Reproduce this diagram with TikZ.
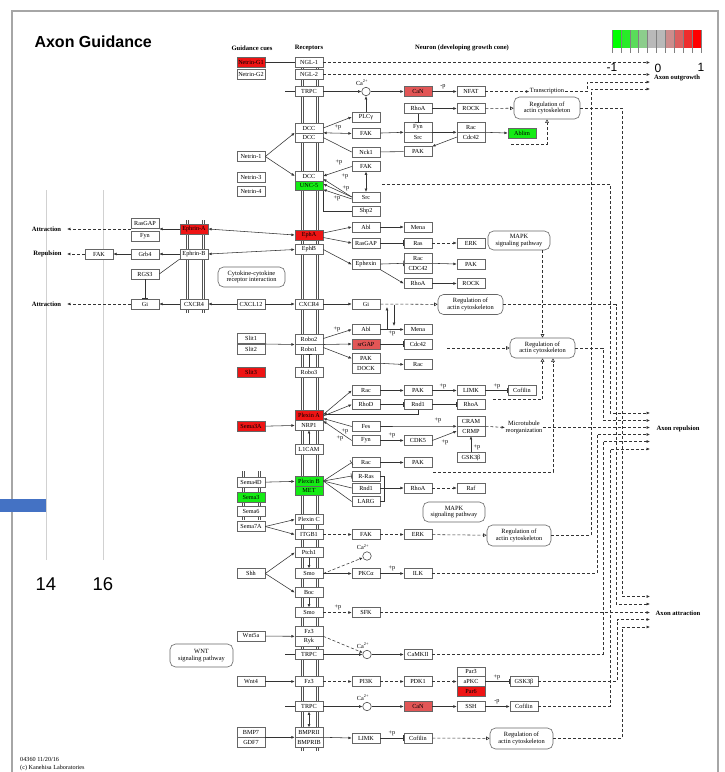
\documentclass[tikz,border=0pt]{standalone}
\usepackage{fontspec}
\setmainfont{Liberation Serif}
\newfontfamily\arialf{Liberation Sans}
\usetikzlibrary{arrows.meta,calc}
\definecolor{kred}{RGB}{238,20,20}
\definecolor{kpink}{RGB}{226,86,86}
\definecolor{kgreen}{RGB}{20,235,20}
\definecolor{kblue}{RGB}{68,114,196}
\definecolor{cb0}{RGB}{0,255,0}
\definecolor{cb1}{RGB}{40,235,40}
\definecolor{cb2}{RGB}{90,220,90}
\definecolor{cb3}{RGB}{140,205,140}
\definecolor{cb4}{RGB}{185,185,185}
\definecolor{cb5}{RGB}{185,185,185}
\definecolor{cb6}{RGB}{205,140,140}
\definecolor{cb7}{RGB}{220,95,95}
\definecolor{cb8}{RGB}{238,45,45}
\definecolor{cb9}{RGB}{255,0,0}
\newcommand{\boxfont}{\fontsize{6.2}{6.6}\selectfont}
\newcommand{\regfont}{\fontsize{6.4}{6.8}\selectfont}
\newcommand{\capfont}{\bfseries\fontsize{6.6}{7}\selectfont}

\tikzset{
  gene/.style={draw=black!60, fill=white, line width=0.55pt, minimum width=28pt,
    minimum height=9.6pt, inner sep=0pt, font=\boxfont},
  gred/.style={gene, fill=kred},
  gpink/.style={gene, fill=kpink},
  ggreen/.style={gene, fill=kgreen},
  pmap/.style={draw=black!60, fill=white, line width=0.6pt, rounded corners=5.5pt,
    align=center, inner sep=0pt, font=\regfont},
  cpd/.style={circle, draw=black!70, fill=white, line width=0.6pt, minimum size=8.5pt, inner sep=0pt},
  note/.style={font=\boxfont, inner sep=0.5pt},
  outl/.style={font=\capfont, inner sep=0.5pt},
  ln/.style={draw=black!80, line width=0.55pt},
  act/.style={ln, -{Latex[length=3.3pt,width=2.8pt]}},
  dact/.style={ln, {Latex[length=3.3pt,width=2.8pt]}-{Latex[length=3.3pt,width=2.8pt]}},
  inh/.style={ln, -{Bar[width=5.5pt]}},
  ind/.style={ln, dash pattern=on 3pt off 2pt},
  inda/.style={ind, -{Latex[length=3.3pt,width=2.8pt]}},
  indo/.style={ind, -{Triangle[open,length=3.5pt,width=3.6pt]}},
  membrane/.style={draw=black!68, line width=0.75pt, double=white, double distance=0.9pt},
}

\begin{document}
\begin{tikzpicture}[x=1pt,y=-1pt]
\useasboundingbox (0,0) rectangle (725,772);
\fill[white] (0,0) rectangle (725,772);

% slide frame and background chart remnants
\draw[black!35, line width=1.3pt] (12,772) -- (12,11) -- (718,11) -- (718,772);
\draw[black!18, line width=0.8pt] (46,190) -- (46,560);
\draw[black!18, line width=0.8pt] (103,190) -- (103,560);
\fill[kblue] (0,499.3) rectangle (46,512.3);
\node[font=\arialf\fontsize{18.5}{20}\selectfont] (n14) at (46,584) {14};
\node[font=\arialf\fontsize{18.5}{20}\selectfont] (n16) at (103,584) {16};
\node[anchor=west, font=\arialf\bfseries\fontsize{16}{18}\selectfont] (title) at (31,42) {Axon Guidance};

% colour scale
\foreach \c [count=\i from 0] in {cb0,cb1,cb2,cb3,cb4,cb5,cb6,cb7,cb8,cb9}
  \fill[\c] ({612+\i*8.9},30) rectangle ++(8.9,18);
\foreach \i in {0,...,10}
  \draw[black!50, line width=0.5pt] ({612+\i*8.9},30) -- ({612+\i*8.9},53);
\node[font=\arialf\fontsize{12}{13}\selectfont] (sm1) at (612,67) {-1};
\node[font=\arialf\fontsize{12}{13}\selectfont] (s0) at (658,68.5) {0};
\node[font=\arialf\fontsize{12}{13}\selectfont] (sp1) at (701,67) {1};

% headers
\node[outl] (hcue) at (252,48) {Guidance cues};
\node[outl] (hrec) at (309,48) {Receptors};
\node[outl] (hneu) at (462,48) {Neuron (developing growth cone)};

% membranes
\draw[membrane] (302.5,57) -- (302.5,751);
\draw[membrane] (317.5,57) -- (317.5,751);
\draw[membrane] (187.5,220) -- (187.5,313);
\draw[membrane] (203.5,220) -- (203.5,313);
\draw[membrane] (243.5,471) -- (243.5,520);
\draw[membrane] (259.5,471) -- (259.5,520);

% guidance cues
\node[gred] (ng1) at (251,62.5) {Netrin-G1};
\node[gene] (ng2) at (251,74.5) {Netrin-G2};
\node[gene] (ntn1) at (251,156.5) {Netrin-1};
\node[gene] (ntn3) at (251,177) {Netrin-3};
\node[gene] (ntn4) at (251,191.5) {Netrin-4};
\node[gene] (cxcl) at (251,304) {CXCL12};
\node[gene] (slit1) at (251,338.5) {Slit1};
\node[gene] (slit2) at (251,349.5) {Slit2};
\node[gred] (slit3) at (251,372) {Slit3};
\node[gred] (sema3a) at (251,426.5) {Sema3A};
\node[gene] (sema4d) at (251,482.5) {Sema4D};
\node[ggreen] (sema3) at (251,497.5) {Sema3};
\node[gene] (sema6) at (251,511.5) {Sema6};
\node[gene] (sema7a) at (251,526.5) {Sema7A};
\node[gene] (shh) at (251,573.5) {Shh};
\node[gene] (wnt5a) at (251,636) {Wnt5a};
\node[gene] (wnt4) at (251,681.5) {Wnt4};
\node[gene] (bmp7) at (251,732.5) {BMP7};
\node[gene] (gdf7) at (251,742.1) {GDF7};

% receptors
\node[gene] (ngl1) at (309,62.5) {NGL-1};
\node[gene] (ngl2) at (309,74.5) {NGL-2};
\node[gene] (trpc1) at (309,91.5) {TRPC};
\node[gene] (dcc1) at (309,128) {DCC};
\node[gene] (dcc2) at (309,137.6) {DCC};
\node[gene] (dcc3) at (309,176) {DCC};
\node[ggreen] (unc5) at (309,185.6) {UNC-5};
\node[gred] (epha) at (309,235) {EphA};
\node[gene] (ephb) at (309,249.5) {EphB};
\node[gene] (cxcr4) at (309,304) {CXCR4};
\node[gene] (robo2) at (309,339.5) {Robo2};
\node[gene] (robo1) at (309,349.1) {Robo1};
\node[gene] (robo3) at (309,372.5) {Robo3};
\node[gred] (plexa) at (309,415.5) {Plexin A};
\node[gene] (nrp1) at (309,425.1) {NRP1};
\node[gene] (l1cam) at (309,449.5) {L1CAM};
\node[ggreen] (plexb) at (309,481) {Plexin B};
\node[ggreen] (met) at (309,490.6) {MET};
\node[gene] (plexc) at (309,519.5) {Plexin C};
\node[gene] (itgb1) at (309,534.5) {ITGB1};
\node[gene] (ptch1) at (309,552.5) {Ptch1};
\node[gene] (smo1) at (309,573.5) {Smo};
\node[gene] (boc) at (309,592.5) {Boc};
\node[gene] (smo2) at (309,612.5) {Smo};
\node[gene] (fz3a) at (309,631.5) {Fz3};
\node[gene] (ryk) at (309,641.1) {Ryk};
\node[gene] (trpc2) at (309,654.5) {TRPC};
\node[gene] (fz3b) at (309,681.5) {Fz3};
\node[gene] (trpc3) at (309,706.5) {TRPC};
\node[gene] (bmpr2) at (309,732.5) {BMPRII};
\node[gene] (bmpr1b) at (309,742.1) {BMPRIB};

% ephrin side
\node[gene] (rasgapL) at (145,223) {RasGAP};
\node[gene] (fynL) at (145,236) {Fyn};
\node[gene] (grb4) at (145,254) {Grb4};
\node[gene] (rgs3) at (145,274) {RGS3};
\node[gene] (giL) at (145,304) {Gi};
\node[gene] (fakL) at (99,254) {FAK};
\node[gred] (ephrinA) at (194,229) {Ephrin-A};
\node[gene] (ephrinB) at (194,254) {Ephrin-B};
\node[gene] (cxcr4L) at (194,304) {CXCR4};

% neuron, column 3
\node[gene] (plcg) at (366,117) {PLCγ};
\node[gene] (fak1) at (366,133.5) {FAK};
\node[gene] (nck1) at (366,152) {Nck1};
\node[gene] (fak2) at (366,166.5) {FAK};
\node[gene] (src1) at (366,197) {Src};
\node[gene] (shp2) at (366,211.5) {Shp2};
\node[gene] (abl1) at (366,227) {Abl};
\node[gene] (rasgap) at (366,243) {RasGAP};
\node[gene] (ephexin) at (366,264.5) {Ephexin};
\node[gene] (gi) at (366,304) {Gi};
\node[gene] (abl2) at (366,329.5) {Abl};
\node[gpink] (srgap) at (366,344) {srGAP};
\node[gene] (pak1) at (366,358.5) {PAK};
\node[gene] (dock) at (366,368.1) {DOCK};
\node[gene] (rac1) at (366,390.5) {Rac};
\node[gene] (rhod) at (366,404.5) {RhoD};
\node[gene] (fes) at (366,426.5) {Fes};
\node[gene] (fyn2) at (366,440.5) {Fyn};
\node[gene] (rac2) at (366,462.5) {Rac};
\node[gene] (rras) at (366,476) {R-Ras};
\node[gene] (rnd1b) at (366,488) {Rnd1};
\node[gene] (larg) at (366,501.5) {LARG};
\node[gene] (fak3) at (366,534.5) {FAK};
\node[gene] (pkca) at (366,573.5) {PKCα};
\node[gene] (sfk) at (366,612.5) {SFK};
\node[gene] (pi3k) at (366,681.5) {PI3K};
\node[gene] (limk2) at (366,738) {LIMK};

% column 4
\node[gpink] (can1) at (418,91.5) {CaN};
\node[gene] (rhoa1) at (418,108.5) {RhoA};
\node[gene] (fyn1) at (418,127.5) {Fyn};
\node[gene] (src2) at (418,137.1) {Src};
\node[gene] (pak2) at (418,151.5) {PAK};
\node[gene] (mena1) at (418,227) {Mena};
\node[gene] (ras1) at (418,243) {Ras};
\node[gene] (rac3) at (418,258.5) {Rac};
\node[gene] (cdc42a) at (418,268.1) {CDC42};
\node[gene] (rhoa2) at (418,283.5) {RhoA};
\node[gene] (mena2) at (418,329.5) {Mena};
\node[gene] (cdc42b) at (418,344) {Cdc42};
\node[gene] (rac4) at (418,364.5) {Rac};
\node[gene] (pak3) at (418,390.5) {PAK};
\node[gene] (rnd1a) at (418,404.5) {Rnd1};
\node[gene] (cdk5) at (418,440.5) {CDK5};
\node[gene] (pak4) at (418,462.5) {PAK};
\node[gene] (rhoa3) at (418,488) {RhoA};
\node[gene] (camk) at (418,654.5) {CaMKII};
\node[gene] (pdk1) at (418,681.5) {PDK1};
\node[gpink] (can2) at (418,706.5) {CaN};
\node[gene] (cof2) at (418,738) {Cofilin};

% column 5
\node[gene] (nfat) at (471,91.5) {NFAT};
\node[gene] (rock1) at (471,108.5) {ROCK};
\node[gene] (rac5) at (471,127.5) {Rac};
\node[gene] (cdc42c) at (471,137.1) {Cdc42};
\node[gene] (erk1) at (471,243) {ERK};
\node[gene] (pak5) at (471,264) {PAK};
\node[gene] (rock2) at (471,283.5) {ROCK};
\node[gene] (limk1) at (471,390.5) {LIMK};
\node[gene] (rhoa4) at (471,404.5) {RhoA};
\node[gene] (cram) at (471,421.5) {CRAM};
\node[gene] (crmp) at (471,431.1) {CRMP};
\node[gene] (gsk1) at (471,457.5) {GSK3β};
\node[gene] (raf) at (471,488) {Raf};
\node[gene] (erk2) at (418,534.5) {ERK};
\node[gene] (ilk) at (418,573.5) {ILK};
\node[gene] (par3) at (471,671.9) {Par3};
\node[gene] (apkc) at (471,681.5) {aPKC};
\node[gred] (par6) at (471,691.1) {Par6};
\node[gene] (ssh) at (471,706.5) {SSH};

% column 6
\node[ggreen] (ablim) at (522,133) {Ablim};
\node[gene] (cof1) at (522,390.5) {Cofilin};
\node[gene] (gsk2) at (524,681.5) {GSK3β};
\node[gene] (cof3) at (524,706.5) {Cofilin};

% pathway maps
\node[pmap, minimum width=66pt, minimum height=22pt] (reg1) at (547,108) {Regulation of\\actin cytoskeleton};
\node[pmap, minimum width=62pt, minimum height=19pt] (mapk1) at (519,240.5) {MAPK\\signaling pathway};
\node[pmap, minimum width=67pt, minimum height=20pt] (cyto) at (251.5,277) {Cytokine-cytokine\\receptor interaction};
\node[pmap, minimum width=65pt, minimum height=20pt] (reg2) at (470.5,304.5) {Regulation of\\actin cytoskeleton};
\node[pmap, minimum width=65pt, minimum height=20pt] (reg3) at (542.5,348) {Regulation of\\actin cytoskeleton};
\node[pmap, minimum width=62pt, minimum height=20pt] (mapk2) at (454,512) {MAPK\\signaling pathway};
\node[pmap, minimum width=64pt, minimum height=21pt] (reg4) at (519,535.5) {Regulation of\\actin cytoskeleton};
\node[pmap, minimum width=63pt, minimum height=23pt] (wnt) at (201.5,655.5) {WNT\\signaling pathway};
\node[pmap, minimum width=63pt, minimum height=21pt] (reg5) at (521.5,738.5) {Regulation of\\actin cytoskeleton};

% calcium
\node[cpd] (ca1) at (366,91.5) {};
\node[cpd] (ca2) at (367,556) {};
\node[cpd] (ca3) at (367,654.5) {};
\node[cpd] (ca4) at (367,706.5) {};
\node[note] (cal1) at (362,82.5) {Ca\textsuperscript{2+}};
\node[note] (cal2) at (363,547) {Ca\textsuperscript{2+}};
\node[note] (cal3) at (363,645.5) {Ca\textsuperscript{2+}};
\node[note] (cal4) at (363,697.5) {Ca\textsuperscript{2+}};

% plain texts and outcomes
\node[note, font=\regfont] (trans) at (547,91.5) {Transcription};
\node[note, font=\regfont, align=center] (mtub) at (524,427.5) {Microtubule\\reorganization};
\node[outl] (attr1) at (46.5,229) {Attraction};
\node[outl] (rep1) at (47.5,254) {Repulsion};
\node[outl] (attr2) at (46.5,304) {Attraction};
\node[outl] (outg) at (677,77.5) {Axon outgrowth};
\node[outl] (arep) at (678,429) {Axon repulsion};
\node[outl] (aatt) at (678,613) {Axon attraction};

% phosphorylation marks
\node[note] (p1) at (443,87) {-p};
\node[note] (p2) at (338,127.5) {+p};
\node[note] (p3) at (339,162.5) {+p};
\node[note] (p4) at (345,176.5) {+p};
\node[note] (p5) at (346,188) {+p};
\node[note] (p6) at (337,198) {+p};
\node[note] (p7) at (337,329) {+p};
\node[note] (p8) at (392,333.5) {+p};
\node[note] (p9) at (443,386) {+p};
\node[note] (p10) at (497,386) {+p};
\node[note] (p11) at (345,431) {+p};
\node[note] (p12) at (340,438.5) {+p};
\node[note] (p13) at (438,420.5) {+p};
\node[note] (p14) at (392,435.5) {+p};
\node[note] (p15) at (445,442.5) {+p};
\node[note] (p16) at (477,447) {+p};
\node[note] (p17) at (392,568) {+p};
\node[note] (p18) at (338,607.5) {+p};
\node[note] (p19) at (497,677) {+p};
\node[note] (p20) at (497,702) {-p};
\node[note] (p21) at (392,733.5) {+p};

% free ends and bends
\coordinate (o1) at (650,62.5);
\coordinate (o2) at (650,74.5);
\coordinate (o3) at (650,82);
\coordinate (o4) at (650,89);
\coordinate (b3) at (587,82);
\coordinate (t1) at (285,91.5);
\coordinate (t2) at (285,654.5);
\coordinate (t3) at (285,706.5);
\coordinate (ab1) at (511,144);
\coordinate (u1) at (382,184);
\coordinate (u2) at (610,184);
\coordinate (att1) at (67,229);
\coordinate (rep1e) at (67,254);
\coordinate (att2) at (67,304);
\coordinate (gm1) at (387,329.5);
\coordinate (gm2) at (387,307);
\coordinate (gm3) at (394,304.5);
\coordinate (gm4) at (394,326);
\coordinate (sg1) at (447,348);
\coordinate (cf1) at (493,399.5);
\coordinate (pk1) at (433,472);
\coordinate (bk1) at (384,476);
\coordinate (bk2) at (384,501.5);
\coordinate (rr1) at (622,108);
\coordinate (rr2) at (616,304.5);
\coordinate (rr3) at (603,348);
\coordinate (rr4) at (591,535.5);
\coordinate (rr5) at (597,573.5);
\coordinate (rr6) at (603,654.5);
\coordinate (rr7) at (617,681.5);
\coordinate (rr8) at (610,706.5);
\coordinate (rr9) at (622,738.5);
\coordinate (r1) at (650,413);
\coordinate (r2) at (650,420.5);
\coordinate (r3) at (650,427.5);
\coordinate (r4) at (650,434.5);
\coordinate (r5) at (650,441.5);
\coordinate (r6) at (650,449);
\coordinate (a1) at (650,596.5);
\coordinate (a2) at (650,604);
\coordinate (a3) at (650,612.5);
\coordinate (a4) at (650,619.5);
\coordinate (a5) at (650,627);

% netrin-G / TRPC / calcineurin
\draw[ln] (ng1) -- (ngl1);
\draw[inda] (ngl1) -- (o1);
\draw[inda] (ngl2) -- (o2);
\draw[ln] (t1) -- (trpc1);
\draw[act] (trpc1) -- (ca1);
\draw[act] (ca1) -- (can1);
\draw[act] (can1) -- (nfat);
\draw[inda] (nfat) -- (trans);
\draw[inda] (trans.east) -| (b3) -- (o3);
\draw[act] (plcg) -- (ca1);

% netrin / DCC
\draw[act] (ntn1.east) -- ([yshift=-4.8pt]dcc1.west);
\draw[act] (ntn1.east) -- (dcc3.west);
\draw[act] (dcc1.east) -- (plcg.west);
\draw[dact] ([yshift=-4.8pt]dcc1.east) -- (fak1.west);
\draw[ln] (dcc2.east) -- (nck1.west);
\draw[act] (fak1) -- ([yshift=-4.8pt]fyn1.west);
\draw[act] (rhoa1) -- (rock1);
\draw[inh] (rhoa1) -- (fyn1);
\draw[act] ([yshift=-4.8pt]fyn1.east) -- ([yshift=-4.8pt]rac5.west);
\draw[act] (cdc42c.west) -- (pak2.north east);
\draw[ln] (nck1) -- (pak2);
\draw[indo] (rock1) -- (reg1);
\draw[act] ([yshift=-4.8pt]rac5.east) -- (ablim.west);
\draw[indo] (ab1) -| (reg1.south);
\draw[inda] (reg1.east) -- (rr1) |- (a1);
\draw[act] (fak2.west) -- (dcc3.east);
\draw[act] (src1.west) -- ([yshift=-3pt]dcc3.east);
\draw[act] (src1.west) -- ([yshift=1.6pt]unc5.east);
\draw[act] ([yshift=-2pt]src1.west) -- ([yshift=-4pt]unc5.east);
\draw[dact] (fak2) -- (src1);
\draw[ln] (unc5.south east) |- (shp2.west);
\draw[inda] (u1) -- (u2) |- (r1);

% ephrins
\draw[dact] (ephrinA.east) -- (epha.west);
\draw[dact] (ephrinB.east) -- (ephb.west);
\draw[act] (ephrinA.west) -- (rasgapL.east |- ephrinA.west);
\draw[inda] (rasgapL.west |- ephrinA.west) -- (att1);
\draw[act] (ephrinB) -- (grb4);
\draw[act] (grb4) -- (fakL);
\draw[inda] (fakL) -- (rep1e);
\draw[ln] (ephrinB.south west) -- (rgs3.east);
\draw[inh] (rgs3) -- (giL);
\draw[act] (cxcr4L) -- (giL);
\draw[inda] (giL) -- (att2);
\draw[act] (cxcl) -- (cxcr4L);
\draw[act] (cxcl) -- (cxcr4);
\draw[act] ([yshift=2pt]epha.east) -- (abl1.west);
\draw[act] ([yshift=-2.5pt]epha.east) -- (rasgap.west);
\draw[act] (ephb.east) -- (ephexin.west);
\draw[act] (abl1) -- (mena1);
\draw[inh] (rasgap) -- (ras1);
\draw[inda] (ras1) -- (erk1);
\draw[inh] (ephexin) -- ([yshift=-4.8pt]rac3.west);
\draw[act] (ephexin.south east) -- (rhoa2.west);
\draw[act] ([yshift=-4.8pt]rac3.east) -- (pak5.west);
\draw[act] (rhoa2) -- (rock2);
\draw[indo] (reg3.north |- mapk1.south) -- (reg3.north);

% CXCR4
\draw[act] (cxcr4) -- (gi);
\draw[indo] (gi) -- (reg2);
\draw[inda] (reg2.east) -- (rr2) |- (a2);
\draw[act] (gm1) -- (gm2);
\draw[act] (gm3) -- (gm4);

% robo
\draw[act] ([yshift=-5.5pt]slit1.east) -- ([yshift=-5pt]robo2.west);
\draw[inh] (robo3) -- (robo1);
\draw[act] ([yshift=1pt]robo2.east) -- (abl2.west);
\draw[act] ([yshift=-5pt]robo2.east) -- (srgap.west);
\draw[act] ([yshift=-8pt]robo2.east) -- (pak1.west);
\draw[act] (abl2) -- (mena2);
\draw[inh] (srgap) -- (cdc42b);
\draw[act] ([yshift=-4.8pt]pak1.east) -- (rac4.west);
\draw[indo] (sg1) -- (reg3.west);
\draw[inda] (reg3.east) -- (rr3) |- (r2);

% plexin A
\draw[act] (sema3a) -- (nrp1);
\draw[act] ([yshift=1pt]plexa.east) -- (rac1.west);
\draw[act] ([yshift=-0.5pt]plexa.east) -- (rhod.west);
\draw[act] (rac1) -- (pak3);
\draw[act] (pak3) -- (limk1);
\draw[inh] (limk1) -- (cof1);
\draw[indo] (cf1) -| (reg3.south);
\draw[inh] (rhod) -- (rnd1a);
\draw[inh] (rnd1a) -- (rhoa4);
\draw[act] (rnd1a.south) |- ([yshift=1.5pt]plexa.east);
\draw[act] (fes.west) -- ([yshift=-3pt]plexa.east);
\draw[act] (fyn2.west) -- ([yshift=-5.5pt]plexa.east);
\draw[act] (fes.east) -- ([yshift=-4.8pt]cram.west);
\draw[act] (fyn2) -- (cdk5);
\draw[act] (cdk5.east) -- (crmp.west);
\draw[act] (gsk1) -- (crmp);
\draw[inda] ([yshift=-4.8pt]cram.east) -- (mtub.west);
\draw[inda] (mtub.east) -- (r3);
\draw[act] (l1cam) -- (nrp1);

% plexin B / C, integrin
\draw[act] (sema4d) -- (plexb);
\draw[inh] (plexb.east) -- (rac2.west);
\draw[inh] (plexb.east) -- (rras.west);
\draw[ln] (plexb.east) -- (rnd1b.west);
\draw[ln] (plexb.east) -- (larg.west);
\draw[act] (rac2) -- (pak4);
\draw[indo] (pk1) -| ([xshift=10.5pt]reg3.south);
\draw[ln] (rras.east) -- (bk1) -- (bk2) -- (larg.east);
\draw[ln] (rnd1b.east) -- (rnd1b.east -| bk1);
\draw[act] (bk1 |- rhoa3) -- (rhoa3);
\draw[inda] (rhoa3) -- (raf);
\draw[act] (sema7a.east) -- (plexc.west);
\draw[act] (sema7a.east) -- (itgb1.west);
\draw[inda] (itgb1) -- (fak3);
\draw[inda] (fak3) -- (erk2);
\draw[indo] (erk2) -- (reg4);
\draw[inda] (reg4.east) -- (rr4) |- (o4);

% hedgehog
\draw[act] (shh.east) -- (ptch1.west);
\draw[act] (shh.east) -- (boc.west);
\draw[act] (ptch1) -- (smo1);
\draw[act] (boc) -- (smo2);
\draw[inda] (smo1.east) -- (ca2);
\draw[act] (smo1) -- (pkca);
\draw[act] (pkca) -- (ilk);
\draw[inda] (ilk) -- (rr5) |- (r4);
\draw[inda] (smo2) -- (sfk);
\draw[inda] (sfk) -- (a3);

% wnt
\draw[act] (wnt5a) -- ([yshift=-4.8pt]fz3a.west);
\draw[inda] ([yshift=-4.8pt]fz3a.east) -- (ca3);
\draw[ln] (t2) -- (trpc2);
\draw[act] (trpc2) -- (ca3);
\draw[act] (ca3) -- (camk);
\draw[inda] (camk) -- (rr6) |- (r5);
\draw[act] (wnt4) -- (fz3b);
\draw[inda] (fz3b) -- (pi3k);
\draw[inda] (pi3k) -- (pdk1);
\draw[inda] (pdk1) -- (apkc);
\draw[inh] (apkc) -- (gsk2);
\draw[inda] (gsk2) -- (rr7) |- (a4);
\draw[ln] (t3) -- (trpc3);
\draw[act] (trpc3) -- (ca4);
\draw[act] (ca4) -- (can2);
\draw[act] (can2) -- (ssh);
\draw[act] (ssh) -- (cof3);
\draw[inda] (cof3) -- (rr8) |- (r6);

% BMP
\draw[dact] (trpc3) -- (bmpr2);
\draw[act] ([yshift=-4.8pt]bmp7.east) -- ([yshift=-4.8pt]bmpr2.west);
\draw[act] ([yshift=-4.8pt]bmpr2.east) -- (limk2.west);
\draw[inh] (limk2) -- (cof2);
\draw[indo] (cof2) -- (reg5);
\draw[inda] (reg5.east) -- (rr9) |- (a5);

% footer
\node[anchor=west, align=left, font=\fontsize{6.2}{7.4}\selectfont, inner sep=0pt] (foot) at (20,764) {04360 11/20/16\\(c) Kanehisa Laboratories};
\end{tikzpicture}
\end{document}
